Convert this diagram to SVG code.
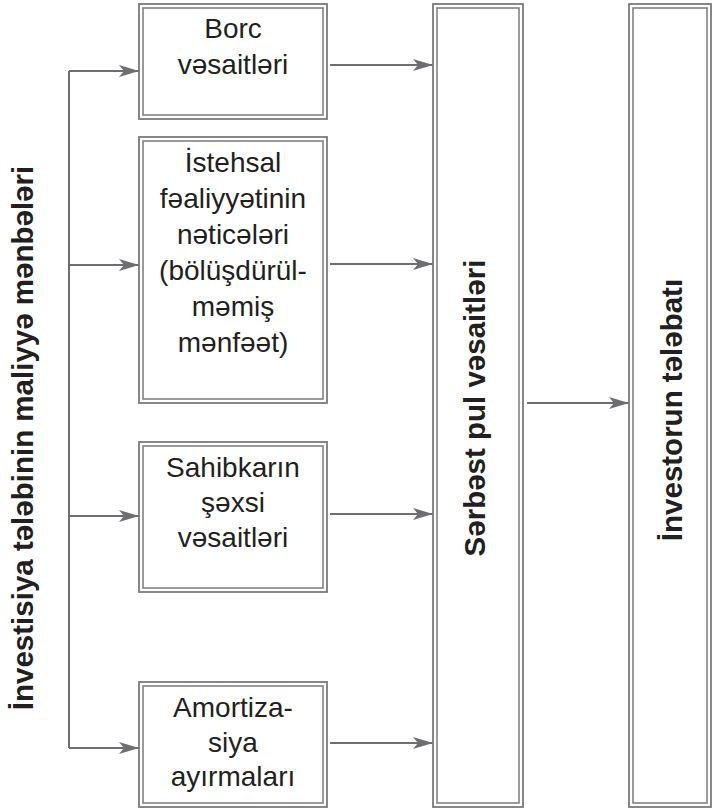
<svg xmlns="http://www.w3.org/2000/svg" width="712" height="810" viewBox="0 0 712 810">
  <style>
    .outer { fill: #ffffff; stroke: #7a7a7a; stroke-width: 1.8; }
    .inner { fill: none; stroke: #7a7a7a; stroke-width: 1.5; }
    .lbl { font-family: "Liberation Sans", Arial, sans-serif; font-size: 28px; fill: #231f20; text-anchor: middle; }
    .vlbl { font-family: "Liberation Sans", Arial, sans-serif; font-size: 29.5px; font-weight: bold; fill: #231f20; text-anchor: middle; }
    .wire { fill: none; stroke: #6d6e71; stroke-width: 2; }
  </style>
  <defs>
    <marker id="arrow" viewBox="0 0 20 12" refX="20" refY="6" markerWidth="20" markerHeight="12" markerUnits="userSpaceOnUse" orient="auto">
      <path d="M0,0 L20,6 L0,12 L5,6 z" fill="#6d6e71"/>
    </marker>
  </defs>

  <rect width="712" height="810" fill="#ffffff"/>

  <!-- side title -->
  <g id="title">
    <text class="vlbl" transform="translate(33,438) rotate(-90)">İnvestisiya tələbinin maliyyə mənbələri</text>
  </g>

  <!-- connectors -->
  <g id="connectors">
    <path class="wire" d="M69,71 L69,748"/>
    <path class="wire" marker-end="url(#arrow)" d="M69,71 L139,71"/>
    <path class="wire" marker-end="url(#arrow)" d="M69,265 L139,265"/>
    <path class="wire" marker-end="url(#arrow)" d="M69,516 L139,516"/>
    <path class="wire" marker-end="url(#arrow)" d="M69,748 L139,748"/>
    <path class="wire" marker-end="url(#arrow)" d="M330,65 L433,65"/>
    <path class="wire" marker-end="url(#arrow)" d="M330,264 L433,264"/>
    <path class="wire" marker-end="url(#arrow)" d="M330,514 L433,514"/>
    <path class="wire" marker-end="url(#arrow)" d="M330,743 L433,743"/>
    <path class="wire" marker-end="url(#arrow)" d="M527,403 L629,403"/>
  </g>

  <!-- source boxes -->
  <g id="borc">
    <rect class="outer" x="139" y="4" width="188" height="115"/>
    <rect class="inner" x="143" y="8" width="180" height="107"/>
    <text class="lbl" x="233" y="38">Borc</text>
    <text class="lbl" x="233" y="74">vəsaitləri</text>
  </g>

  <g id="istehsal">
    <rect class="outer" x="139" y="137" width="188" height="266"/>
    <rect class="inner" x="143" y="141" width="180" height="258"/>
    <text class="lbl" x="233" y="172">İstehsal</text>
    <text class="lbl" x="233" y="208">fəaliyyətinin</text>
    <text class="lbl" x="233" y="244">nəticələri</text>
    <text class="lbl" x="233" y="280">(bölüşdürül-</text>
    <text class="lbl" x="233" y="316">məmiş</text>
    <text class="lbl" x="233" y="352">mənfəət)</text>
  </g>

  <g id="sahibkar">
    <rect class="outer" x="139" y="442" width="188" height="150"/>
    <rect class="inner" x="143" y="446" width="180" height="142"/>
    <text class="lbl" x="233" y="477">Sahibkarın</text>
    <text class="lbl" x="233" y="512">şəxsi</text>
    <text class="lbl" x="233" y="547">vəsaitləri</text>
  </g>

  <g id="amortizasiya">
    <rect class="outer" x="139" y="682" width="188" height="125"/>
    <rect class="inner" x="143" y="686" width="180" height="117"/>
    <text class="lbl" x="233" y="717">Amortiza-</text>
    <text class="lbl" x="233" y="752">siya</text>
    <text class="lbl" x="233" y="786">ayırmaları</text>
  </g>

  <!-- collecting column -->
  <g id="serbest">
    <rect class="outer" x="433" y="4" width="90" height="803"/>
    <rect class="inner" x="437" y="8" width="82" height="795"/>
    <text class="vlbl" transform="translate(485,408) rotate(-90)">Sərbəst pul vəsaitləri</text>
  </g>

  <!-- demand column -->
  <g id="investor">
    <rect class="outer" x="629" y="4" width="82" height="803"/>
    <rect class="inner" x="633" y="8" width="74" height="795"/>
    <text class="vlbl" transform="translate(682,410) rotate(-90)">İnvestorun tələbatı</text>
  </g>
</svg>
